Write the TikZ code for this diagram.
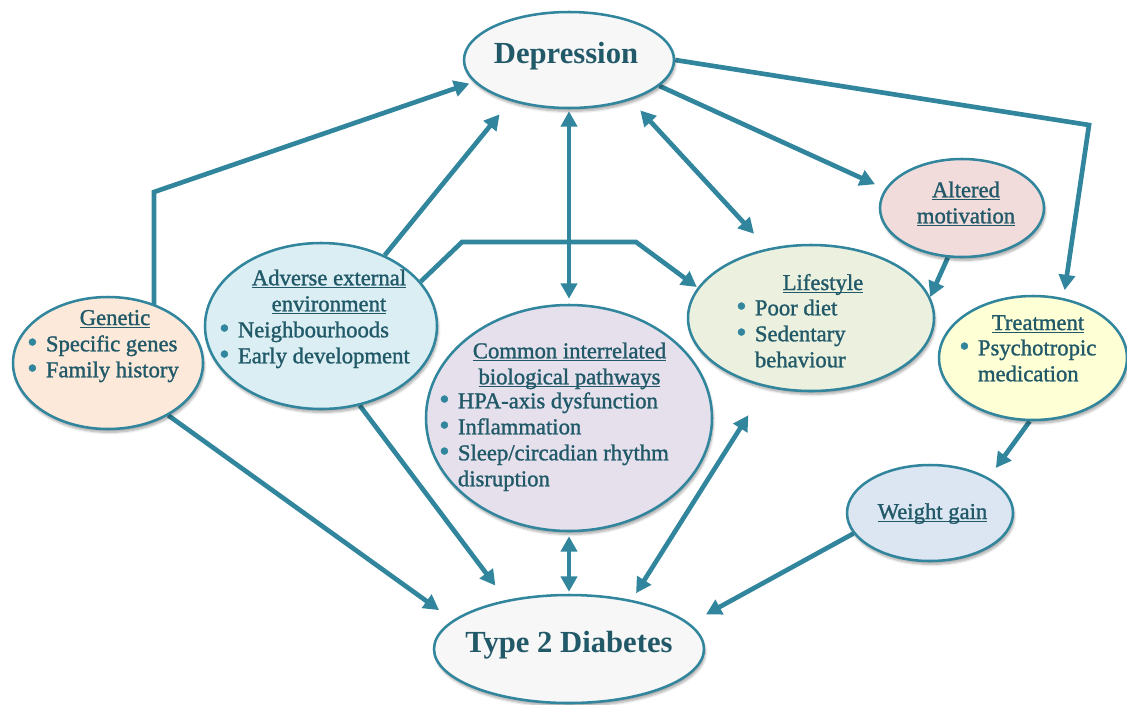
\documentclass[tikz,border=0pt]{standalone}
\usepackage{fontspec}
\setmainfont{Liberation Serif}
\newfontfamily\wordfont{Liberation Serif}[FakeBold=1.3]
\usetikzlibrary{shapes.geometric,arrows.meta,backgrounds,shadows.blur}

\definecolor{brd}{HTML}{31859C}
\definecolor{txt}{HTML}{215968}
\definecolor{greyfill}{HTML}{F7F7F7}
\definecolor{genfill}{HTML}{FDE9D9}
\definecolor{advfill}{HTML}{DAEEF3}
\definecolor{comfill}{HTML}{E5E0EC}
\definecolor{lifefill}{HTML}{EBF1DE}
\definecolor{altfill}{HTML}{F2DCDB}
\definecolor{trtfill}{HTML}{FFFFD5}
\definecolor{wgfill}{HTML}{DCE6F2}

% underlined heading with a fixed rule depth
\newsavebox\ttlbox
\newcommand\ttl[1]{\sbox\ttlbox{#1}\rlap{\rule[-2.4pt]{\wd\ttlbox}{1pt}}\usebox\ttlbox}
\newcommand\bitem{\makebox[14pt][l]{\textcolor{brd}{\raisebox{-0.4pt}{\scalebox{1.3}{\textbullet}}}}}
\newcommand\bcont{\hspace*{14pt}}
\newcommand\topstrut{\rule{0pt}{12pt}}

\tikzset{
  bubble/.style 2 args={ellipse, draw=brd, line width=1.9pt,
    minimum width=#1*1.5pt, minimum height=#2*1.5pt, inner sep=0pt,
    blur shadow={shadow xshift=1pt, shadow yshift=-2.5pt, shadow blur steps=6, shadow opacity=35}},
  words/.style={text=txt, font=\wordfont\fontsize{17}{19.5}\selectfont, inner sep=0pt},
  bigword/.style={text=txt, font=\fontsize{23}{26}\selectfont\bfseries, inner sep=0pt},
  link/.style={draw=brd, line width=3.5pt, ->},
  >={Triangle[length=11.5pt,width=12pt]},
}

\begin{document}
\begin{tikzpicture}[x=0.75pt,y=-0.75pt]
\useasboundingbox (0,0) rectangle (1127,704);

% ellipses
\node[bubble={105}{48}, fill=greyfill] (dep) at (569,60) {};
\node[bubble={95}{66}, fill=genfill] (gen) at (108,363) {};
\node[bubble={116}{83}, fill=advfill] (adv) at (321,326) {};
\node[bubble={143}{113}, fill=comfill] (com) at (569,418) {};
\node[bubble={123}{73}, fill=lifefill] (life) at (811,318) {};
\node[bubble={82}{49}, fill=altfill] (alt) at (962,208) {};
\node[bubble={94}{62}, fill=trtfill] (trt) at (1033,358) {};
\node[bubble={83}{48}, fill=wgfill] (wg) at (930,513) {};
\node[bubble={135}{54}, fill=greyfill] (t2d) at (569,649) {};

% texts
\node[bigword, anchor=base] (dep-t) at (566,63) {Depression};
\node[bigword, anchor=base] (t2d-t) at (569,652) {Type 2 Diabetes};

\node[words, anchor=base] (gen-t) at (115,325) {\ttl{Genetic}};
\node[words, anchor=north west, align=left] (gen-b) at (27,335)
  {\topstrut\bitem Specific genes\\ \bitem Family history};

\node[words, anchor=north, align=center] (adv-t) at (329,269)
  {\topstrut\ttl{Adverse external}\\ \ttl{environment}};
\node[words, anchor=north west, align=left] (adv-b) at (219,321)
  {\topstrut\bitem Neighbourhoods\\ \bitem Early development};

\node[words, anchor=north, align=center] (com-t) at (569.5,342)
  {\topstrut\ttl{Common interrelated}\\ \ttl{biological pathways}};
\node[words, anchor=north west, align=left] (com-b) at (439,392)
  {\topstrut\bitem HPA-axis dysfunction\\ \bitem Inflammation\\
   \bitem Sleep/circadian rhythm\\ \bcont disruption};

\node[words, anchor=base] (life-t) at (823,290) {\ttl{Lifestyle}};
\node[words, anchor=north west, align=left] (life-b) at (736,299)
  {\topstrut\bitem Poor diet\\ \bitem Sedentary\\ \bcont behaviour};

\node[words, anchor=north, align=center] (alt-t) at (966,181)
  {\topstrut\ttl{Altered}\\ \ttl{motivation}};

\node[words, anchor=base] (trt-t) at (1038,330) {\ttl{Treatment}};
\node[words, anchor=north west, align=left] (trt-b) at (959,339)
  {\topstrut\bitem Psychotropic\\ \bcont medication};

\node[words, anchor=base] (wg-t) at (932.5,519) {\ttl{Weight gain}};

% bend points
\coordinate (g1) at (154,192);
\coordinate (t1) at (1089,125);
\coordinate (a1) at (462,242);
\coordinate (a2) at (636,242);

% connectors
\begin{pgfonlayer}{background}
\draw[link, shorten >=3.6pt] (g1 |- gen.center) -- (g1) -- (dep.193);
\draw[link, shorten >=12.8pt] (adv.48) -- (dep.215);
\draw[link, <->, shorten <=1.5pt, shorten >=3.75pt] (dep.south) -- (com.north);
\draw[link, <->, shorten <=10.5pt, shorten >=15pt] (dep.327) -- (life.122);
\draw[link, shorten >=8.25pt] (dep.344) -- (alt.166);
\draw[link, shorten >=6pt] (dep.east) -- (t1) -- (trt.63);
\draw[link, shorten >=0.75pt] (adv.24) -- (a1) -- (a2) -- (life.165);
\draw[link] (alt.254) -- (life.10);
\draw[link, shorten >=9pt] (trt.267) -- (wg.31);
\draw[link, shorten >=14pt] (wg.195) -- (t2d.12);
\draw[link, shorten >=12.8pt] (gen.319) -- (t2d.166);
\draw[link, shorten >=13.5pt] (adv.296) -- (t2d.142);
\draw[link, <->, shorten <=3pt, shorten >=1.5pt] (com.south) -- (t2d.north);
\draw[link, <->, shorten <=24.8pt, shorten >=6pt] (life.237) -- (t2d.38);
\end{pgfonlayer}
\end{tikzpicture}
\end{document}
